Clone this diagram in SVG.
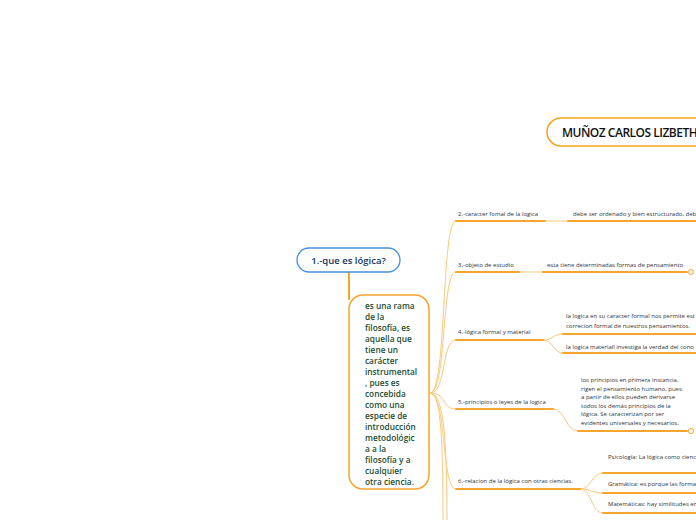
<svg xmlns="http://www.w3.org/2000/svg" width="696" height="520" viewBox="0 0 696 520">
<style>
.thick{fill:none;stroke:#f7a52b;stroke-width:2;stroke-linecap:round}
.thin{fill:none;stroke:#fcc97c;stroke-width:1}
.lbl{font-family:"Open Sans","Noto Sans",sans-serif;font-size:6px;fill:#333}
.box{font-family:"Open Sans","Noto Sans",sans-serif;font-size:8.3px;font-weight:600;fill:#1b4d32}
.ind{fill:#fff;stroke:#f7a52b;stroke-width:1}
</style>
<rect width="696" height="520" fill="#fff"/>
<g id="connectors">
  <line x1="349" y1="272" x2="349" y2="300" stroke="#f7a52b" stroke-width="2"/>
  <path class="thin" d="M430,393 C447,393 441,221 456,221"/>
  <path class="thin" d="M430,393 C447,393 441,272 456,272"/>
  <path class="thin" d="M430,393 C447,393 441,340 456,340"/>
  <path class="thin" d="M430,393 C447,393 441,409 456,409"/>
  <path class="thin" d="M430,393 C447,393 441,489 456,489"/>
  <path class="thin" d="M430,393 C441,393 443,440 443,525"/>
  <path class="thin" d="M430,393 C444,393 447,440 447,525"/>
  <path class="thin" d="M545,221 L568,221"/>
  <path class="thin" d="M519,272 L543,272"/>
  <path class="thin" d="M543,340 C553,340 553,334 563,334"/>
  <path class="thin" d="M543,340 C553,340 553,353 563,353"/>
  <path class="thin" d="M553,409 C566,409 565,431 578,431"/>
  <path class="thin" d="M580,489 C592,489 591,473 603,473"/>
  <path class="thin" d="M580,489 C592,489 591,493 603,493"/>
  <path class="thin" d="M580,489 C592,489 591,513 603,513"/>
</g>
<g id="title">
  <rect x="547" y="118" width="170" height="28" rx="14" fill="#fff" stroke="#f7a21e" stroke-width="1.5"/>
  <text x="562" y="136.5" font-family="'Open Sans','Noto Sans',sans-serif" font-size="12" font-weight="600" letter-spacing="-0.5" fill="#111">MUÑOZ CARLOS LIZBETH</text>
</g>
<g id="n1">
  <rect x="297" y="248" width="103" height="24" rx="12" fill="#fff" stroke="#4a90d9" stroke-width="1.3"/>
  <text x="348.5" y="264" text-anchor="middle" font-family="'Open Sans','Noto Sans',sans-serif" font-size="9.5" font-weight="600" fill="#10355f">1.-que es lógica?</text>
</g>
<g id="def">
  <rect x="349" y="295" width="80" height="194" rx="14" fill="#fff" stroke="#f7a52b" stroke-width="1.5"/>
  <text class="box" x="365">
    <tspan x="365" y="309">es una rama</tspan>
    <tspan x="365" y="320">de la</tspan>
    <tspan x="365" y="331">filosofía, es</tspan>
    <tspan x="365" y="342">aquella que</tspan>
    <tspan x="365" y="353">tiene un</tspan>
    <tspan x="365" y="364">carácter</tspan>
    <tspan x="365" y="375">instrumental</tspan>
    <tspan x="365" y="386">, pues es</tspan>
    <tspan x="365" y="397">concebida</tspan>
    <tspan x="365" y="408">como una</tspan>
    <tspan x="365" y="419">especie de</tspan>
    <tspan x="365" y="430">introducción</tspan>
    <tspan x="365" y="441">metodológic</tspan>
    <tspan x="365" y="452">a a la</tspan>
    <tspan x="365" y="463">filosofía y a</tspan>
    <tspan x="365" y="474">cualquier</tspan>
    <tspan x="365" y="485">otra ciencia.</tspan>
  </text>
</g>
<g id="b2">
  <line class="thick" x1="456" y1="221" x2="545" y2="221"/>
  <text class="lbl" x="458" y="216">2.-caracter fomal de la logica</text>
</g>
<g id="b2c">
  <line class="thick" x1="568" y1="221" x2="700" y2="221"/>
  <text class="lbl" x="573" y="216">debe ser ordenado y bien estructurado, deb</text>
</g>
<g id="b3">
  <line class="thick" x1="456" y1="272" x2="519" y2="272"/>
  <text class="lbl" x="458" y="267">3.-objeto de estudio</text>
</g>
<g id="b3c">
  <line class="thick" x1="543" y1="272" x2="687" y2="272"/>
  <circle class="ind" cx="691" cy="272" r="2.5"/>
  <text class="lbl" x="547" y="267">esta tiene determinadas formas de pensamiento</text>
</g>
<g id="b4">
  <line class="thick" x1="456" y1="340" x2="543" y2="340"/>
  <text class="lbl" x="458" y="334">4.-lógica formal y material</text>
</g>
<g id="b4c1">
  <line class="thick" x1="563" y1="334" x2="700" y2="334"/>
  <text class="lbl" x="566" y="318">la logica en su caracter formal nos permite est</text>
  <text class="lbl" x="566" y="328">correcion formal de nuestros pensamientos.</text>
</g>
<g id="b4c2">
  <line class="thick" x1="563" y1="353" x2="700" y2="353"/>
  <text class="lbl" x="566" y="349">la logica materiall investiga la verdad del cono</text>
</g>
<g id="b5">
  <line class="thick" x1="456" y1="409" x2="553" y2="409"/>
  <text class="lbl" x="458" y="404">5.-principios o leyes de la logica</text>
</g>
<g id="b5c">
  <line class="thick" x1="578" y1="431" x2="687" y2="431"/>
  <circle class="ind" cx="691" cy="431" r="2.5"/>
  <text class="lbl">
    <tspan x="581" y="382">los principios  en primera instancia,</tspan>
    <tspan x="581" y="390.6">rigen el pensamiento humano, pues</tspan>
    <tspan x="581" y="399.2">a partir de ellos pueden derivarse</tspan>
    <tspan x="581" y="407.8">todos los demás principios de la</tspan>
    <tspan x="581" y="416.4">lógica. Se caracterizan por ser</tspan>
    <tspan x="581" y="425">evidentes universales y necesarios.</tspan>
  </text>
</g>
<g id="b6">
  <line class="thick" x1="456" y1="489" x2="580" y2="489"/>
  <text class="lbl" x="458" y="483">6.-relacion de la lógica con otras ciencias.</text>
</g>
<g id="b6c1">
  <line class="thick" x1="603" y1="473" x2="700" y2="473"/>
  <text class="lbl" x="608" y="459">Psicología: La lógica como cienc</text>
</g>
<g id="b6c2">
  <line class="thick" x1="603" y1="493" x2="700" y2="493"/>
  <text class="lbl" x="608" y="486">Gramática: es porque las forma</text>
</g>
<g id="b6c3">
  <line class="thick" x1="603" y1="513" x2="700" y2="513"/>
  <text class="lbl" x="608" y="506">Matemáticas: hay similitudes en</text>
</g>
</svg>
